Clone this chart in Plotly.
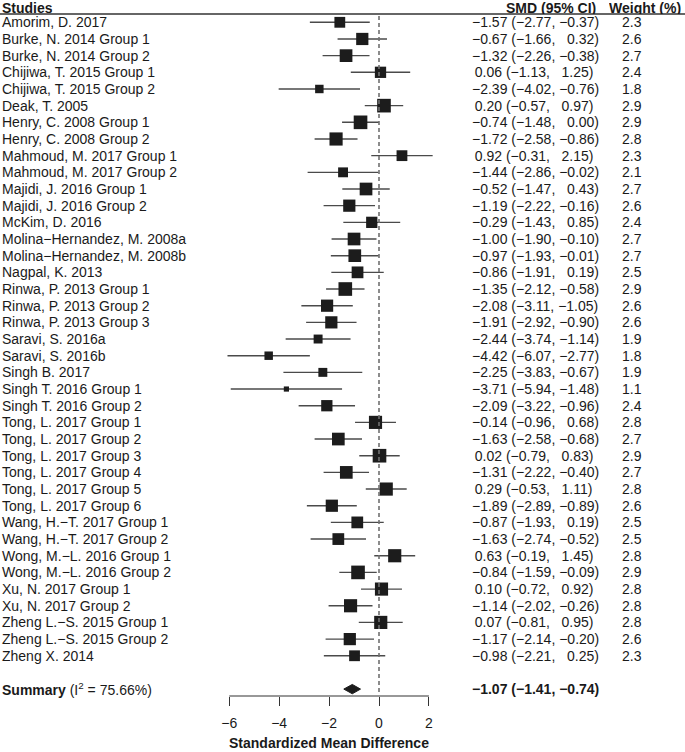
import plotly.graph_objects as go

studies = ["Amorim, D. 2017", "Burke, N. 2014 Group 1", "Burke, N. 2014 Group 2",
           "Chijiwa, T. 2015 Group 1", "Chijiwa, T. 2015 Group 2", "Deak, T. 2005",
           "Henry, C. 2008 Group 1", "Henry, C. 2008 Group 2", "Mahmoud, M. 2017 Group 1",
           "Mahmoud, M. 2017 Group 2", "Majidi, J. 2016 Group 1", "Majidi, J. 2016 Group 2",
           "McKim, D. 2016", "Molina\u2212Hernandez, M. 2008a", "Molina\u2212Hernandez, M. 2008b",
           "Nagpal, K. 2013", "Rinwa, P. 2013 Group 1", "Rinwa, P. 2013 Group 2",
           "Rinwa, P. 2013 Group 3", "Saravi, S. 2016a", "Saravi, S. 2016b", "Singh B. 2017",
           "Singh T. 2016 Group 1", "Singh T. 2016 Group 2", "Tong, L. 2017 Group 1",
           "Tong, L. 2017 Group 2", "Tong, L. 2017 Group 3", "Tong, L. 2017 Group 4",
           "Tong, L. 2017 Group 5", "Tong, L. 2017 Group 6", "Wang, H.\u2212T. 2017 Group 1",
           "Wang, H.\u2212T. 2017 Group 2", "Wong, M.\u2212L. 2016 Group 1",
           "Wong, M.\u2212L. 2016 Group 2", "Xu, N. 2017 Group 1", "Xu, N. 2017 Group 2",
           "Zheng L.\u2212S. 2015 Group 1", "Zheng L.\u2212S. 2015 Group 2", "Zheng X. 2014"]
smd = [-1.57, -0.67, -1.32, 0.06, -2.39, 0.20, -0.74, -1.72, 0.92, -1.44, -0.52, -1.19,
       -0.29, -1.00, -0.97, -0.86, -1.35, -2.08, -1.91, -2.44, -4.42, -2.25, -3.71, -2.09,
       -0.14, -1.63, 0.02, -1.31, 0.29, -1.89, -0.87, -1.63, 0.63, -0.84, 0.10, -1.14,
       0.07, -1.17, -0.98]
lower = [-2.77, -1.66, -2.26, -1.13, -4.02, -0.57, -1.48, -2.58, -0.31, -2.86, -1.47, -2.22,
         -1.43, -1.90, -1.93, -1.91, -2.12, -3.11, -2.92, -3.74, -6.07, -3.83, -5.94, -3.22,
         -0.96, -2.58, -0.79, -2.22, -0.53, -2.89, -1.93, -2.74, -0.19, -1.59, -0.72, -2.02,
         -0.81, -2.14, -2.21]
upper = [-0.37, 0.32, -0.38, 1.25, -0.76, 0.97, 0.00, -0.86, 2.15, -0.02, 0.43, -0.16,
         0.85, -0.10, -0.01, 0.19, -0.58, -1.05, -0.90, -1.14, -2.77, -0.67, -1.48, -0.96,
         0.68, -0.68, 0.83, -0.40, 1.11, -0.89, 0.19, -0.52, 1.45, -0.09, 0.92, -0.26,
         0.95, -0.20, 0.25]
weights = [2.3, 2.6, 2.7, 2.4, 1.8, 2.9, 2.9, 2.8, 2.3, 2.1, 2.7, 2.6, 2.4, 2.7, 2.7, 2.5,
           2.9, 2.6, 2.6, 1.9, 1.8, 1.9, 1.1, 2.4, 2.8, 2.7, 2.9, 2.7, 2.8, 2.6, 2.5, 2.5,
           2.8, 2.9, 2.8, 2.8, 2.8, 2.6, 2.3]
summary_est, summary_lo, summary_hi = -1.07, -1.41, -0.74
i2_text = "75.66%"
x_ticks = [-6, -4, -2, 0, 2]

W, H = 685, 752
FONT = "Liberation Sans, Arial, sans-serif"
TXT = "#1a1a1a"
FS = 14

rows = list(range(len(studies)))
summary_row = len(studies) + 1


def fmt(v, nd=2):
    s = f"{abs(v):.{nd}f}"
    return ("\u2212" + s) if v < 0 else s


def ci_text(e, lo, hi):
    lead = fmt(e) if e < 0 else "\u2009" + fmt(e)
    up = fmt(hi) if hi < 0 else "\u00a0 " + fmt(hi)
    return f"{lead} ({fmt(lo)}, {up})"


# pixel geometry helpers for layout
row0_px, row_step = 22.3, 16.67
axis_px = 696.0
y_top = -row0_px / row_step
y_bot = (axis_px - row0_px) / row_step
x0_px, x_unit = 379.0, 24.96
xd0, xd1 = 218.0, 442.0

fig = go.Figure()

# CI lines
cx, cy = [], []
for r, lo, hi in zip(rows, lower, upper):
    cx += [lo, hi, None]
    cy += [r, r, None]
fig.add_trace(go.Scatter(x=cx, y=cy, mode="lines",
                         line=dict(color="#4a4a4a", width=1.4),
                         hoverinfo="skip", showlegend=False))

# squares
fig.add_trace(go.Scatter(x=smd, y=rows, mode="markers",
                         marker=dict(symbol="square", size=[4.7 * w for w in weights],
                                     color="#1c1c1c", opacity=1, line=dict(width=0)),
                         showlegend=False, cliponaxis=False))

# summary diamond
dh = 0.28
fig.add_trace(go.Scatter(x=[summary_lo, summary_est, summary_hi, summary_est, summary_lo],
                         y=[summary_row, summary_row - dh, summary_row, summary_row + dh, summary_row],
                         mode="lines", fill="toself", fillcolor="#1c1c1c",
                         line=dict(color="#1c1c1c", width=1), showlegend=False))

shapes = []
# zero line
shapes.append(dict(type="line", xref="x", yref="y", x0=0, x1=0,
                   y0=(16 - row0_px) / row_step, y1=(693 - row0_px) / row_step,
                   line=dict(color="#707070", width=1.6, dash="4px,3px")))
# header rule
shapes.append(dict(type="line", xref="paper", yref="paper", x0=0, x1=1,
                   y0=1 - 14 / H, y1=1 - 14 / H, line=dict(color="#333333", width=1.5)))
# axis line
shapes.append(dict(type="line", xref="x", yref="paper", x0=x_ticks[0], x1=x_ticks[-1],
                   y0=1 - axis_px / H, y1=1 - axis_px / H, line=dict(color="#333333", width=1.2)))

ann = []


def add(text, x, y, xref="paper", yref="y", xanchor="left", bold=False, yanchor="middle",
        height=None):
    a = dict(text=f"<b>{text}</b>" if bold else text, x=x, y=y, xref=xref, yref=yref,
             xanchor=xanchor, yanchor=yanchor, showarrow=False, borderpad=0,
             font=dict(family=FONT, size=FS, color=TXT))
    if height is not None:
        a["height"] = height
    ann.append(a)


add("Studies", 1 / W, 1, yref="paper", bold=True, yanchor="top", height=13)
add("SMD (95% CI)", 597 / W, 1, yref="paper", xanchor="right", bold=True, yanchor="top", height=13)
add("Weight (%)", 682 / W, 1, yref="paper", xanchor="right", bold=True, yanchor="top", height=13)

for r, s, e, lo, hi, w in zip(rows, studies, smd, lower, upper, weights):
    add(s, 1 / W, r)
    add(ci_text(e, lo, hi), 471 / W, r)
    add(f"{w:.1f}", 621 / W, r)

add(f"<b>Summary</b> (I<sup>2</sup> = {i2_text})", 1 / W, summary_row)
add(f"{fmt(summary_est)} ({fmt(summary_lo)}, {fmt(summary_hi)})", 471 / W, summary_row, bold=True)

# axis title
add("Standardized Mean Difference", -2, 0, xref="x", yref="paper",
    xanchor="center", bold=True, yanchor="bottom")

fig.update_layout(
    width=W, height=H, margin=dict(l=0, r=0, t=0, b=0),
    paper_bgcolor="white", plot_bgcolor="white",
    shapes=shapes, annotations=ann,
    xaxis=dict(domain=[xd0 / W, xd1 / W],
               range=[(xd0 - x0_px) / x_unit, (xd1 - x0_px) / x_unit],
               tickvals=x_ticks, ticktext=[fmt(t, 0) if t != 0 else "0" for t in x_ticks],
               ticks="outside", ticklen=9, tickwidth=1.2, tickcolor="#333333",
               ticklabelstandoff=5,
               showline=False, showgrid=False, zeroline=False,
               tickfont=dict(family=FONT, size=FS, color=TXT), fixedrange=True),
    yaxis=dict(domain=[1 - axis_px / H, 1], range=[y_bot, y_top],
               showticklabels=False, showgrid=False, zeroline=False, showline=False,
               ticks="", fixedrange=True),
    font=dict(family=FONT, size=FS, color=TXT),
)

fig.write_html("out.html", config={"displayModeBar": False},
               post_script="document.body.style.margin='0';")
